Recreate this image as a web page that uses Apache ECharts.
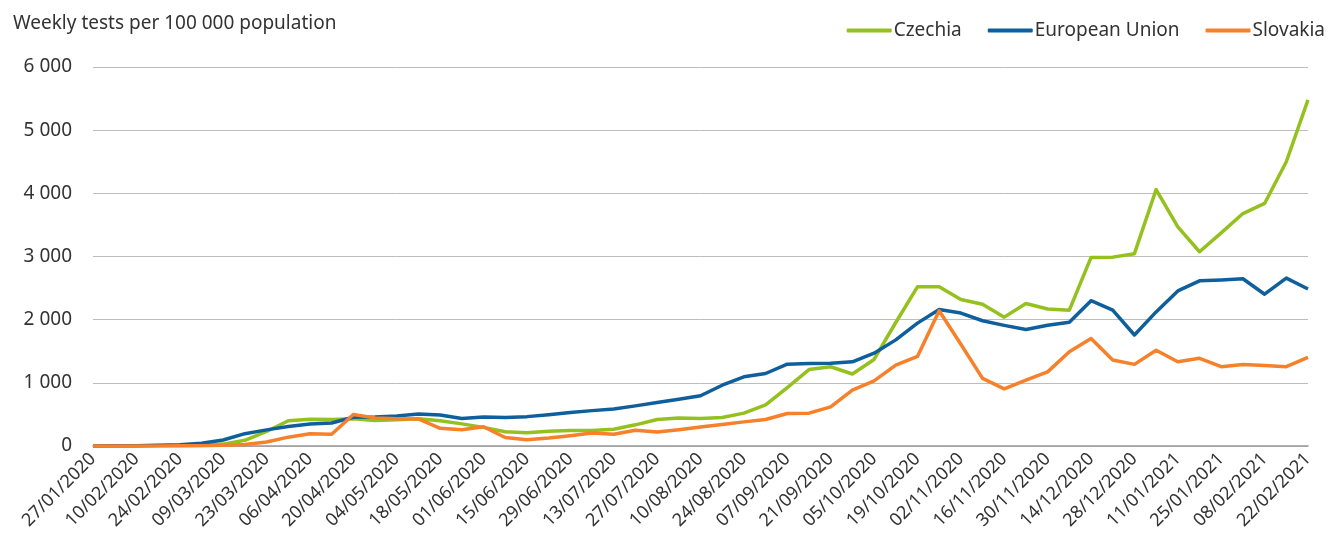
<!DOCTYPE html>
<html>
<head>
<meta charset="utf-8">
<script src="https://cdn.jsdelivr.net/npm/echarts@6/dist/echarts.min.js"></script>
<style>
  html, body { margin: 0; padding: 0; background: #fff; }
  #chart { width: 1330px; height: 550px; }
</style>
</head>
<body>
<div id="chart"></div>
<script>
  // weekly dates (Monday of each week)
  const weeks = [
    '27/01/2020', '03/02/2020', '10/02/2020', '17/02/2020', '24/02/2020', '02/03/2020',
    '09/03/2020', '16/03/2020', '23/03/2020', '30/03/2020', '06/04/2020', '13/04/2020',
    '20/04/2020', '27/04/2020', '04/05/2020', '11/05/2020', '18/05/2020', '25/05/2020',
    '01/06/2020', '08/06/2020', '15/06/2020', '22/06/2020', '29/06/2020', '06/07/2020',
    '13/07/2020', '20/07/2020', '27/07/2020', '03/08/2020', '10/08/2020', '17/08/2020',
    '24/08/2020', '31/08/2020', '07/09/2020', '14/09/2020', '21/09/2020', '28/09/2020',
    '05/10/2020', '12/10/2020', '19/10/2020', '26/10/2020', '02/11/2020', '09/11/2020',
    '16/11/2020', '23/11/2020', '30/11/2020', '07/12/2020', '14/12/2020', '21/12/2020',
    '28/12/2020', '04/01/2021', '11/01/2021', '18/01/2021', '25/01/2021', '01/02/2021',
    '08/02/2021', '15/02/2021', '22/02/2021'
  ];

  const czechia = [
    0, 0, 0, 2, 5, 12, 30, 90, 230, 400, 425, 420, 430, 405, 415, 430, 400, 350, 295, 225,
    210, 235, 245, 245, 265, 335, 420, 445, 435, 450, 520, 650, 925, 1210, 1255, 1140, 1370,
    1955, 2520, 2520, 2320, 2245, 2040, 2255, 2170, 2150, 2985, 2990, 3045, 4060, 3470, 3075,
    3375, 3680, 3840, 4500, 5480
  ];

  const eu = [
    0, 2, 4, 10, 20, 45, 95, 195, 255, 310, 350, 365, 455, 460, 475, 505, 490, 435, 460, 450,
    465, 495, 530, 560, 585, 635, 690, 740, 795, 962, 1095, 1148, 1295, 1305, 1310, 1332, 1470,
    1680, 1945, 2162, 2105, 1983, 1910, 1843, 1912, 1958, 2300, 2152, 1757, 2123, 2455, 2615,
    2628, 2648, 2403, 2658, 2485
  ];

  const slovakia = [
    0, 0, 0, 0, 2, 5, 10, 25, 63, 140, 195, 185, 500, 445, 430, 428, 280, 258, 305, 135,
    100, 127, 163, 206, 185, 248, 222, 258, 300, 340, 382, 420, 515, 520, 620, 885, 1030,
    1280, 1418, 2140, 1610, 1071, 905, 1042, 1173, 1492, 1700, 1361, 1292, 1515, 1334, 1388,
    1255, 1290, 1275, 1255, 1402
  ];

  const seriesNames = ['Czechia', 'European Union', 'Slovakia'];
  const colors = ['#95C11F', '#0F5F9C', '#F7802A'];

  const fontFamily = '"Noto Sans", "Open Sans", sans-serif';
  const fmt = v => String(v).replace(/\B(?=(\d{3})+(?!\d))/g, ' ');

  const chart = echarts.init(document.getElementById('chart'));

  const lineSeries = (name, data, color) => ({
    name: name,
    type: 'line',
    data: data,
    symbol: 'none',
    smooth: false,
    color: color,
    lineStyle: { width: 3.5, color: color, join: 'round' },
    emphasis: { disabled: true }
  });

  chart.setOption({
    animation: false,
    textStyle: { fontFamily: fontFamily },
    title: {
      text: 'Weekly tests per 100 000 population',
      left: 8,
      top: 9,
      textStyle: { fontSize: 19, fontWeight: 'normal', color: '#333', fontFamily: fontFamily }
    },
    legend: {
      data: seriesNames,
      right: 0,
      top: 16,
      icon: 'roundRect',
      itemWidth: 45,
      itemHeight: 4,
      itemGap: 26,
      textStyle: { fontSize: 19, color: '#333', padding: [0, 0, 0, -3], fontFamily: fontFamily }
    },
    grid: {
      left: 93,
      right: 22,
      top: 67,
      bottom: 104,
      containLabel: false,
      outerBoundsMode: 'none'
    },
    xAxis: {
      type: 'category',
      data: weeks,
      boundaryGap: false,
      axisLine: { show: true, lineStyle: { color: '#999', width: 1.5 } },
      axisTick: { show: false },
      axisLabel: {
        interval: 1,
        rotate: 45,
        fontSize: 18,
        color: '#333',
        margin: 10,
        fontFamily: fontFamily
      }
    },
    yAxis: {
      type: 'value',
      min: 0,
      max: 6000,
      interval: 1000,
      axisLine: { show: false },
      axisTick: { show: false },
      splitLine: { lineStyle: { color: '#bdbdbd', width: 1 } },
      axisLabel: {
        formatter: fmt,
        fontSize: 19,
        color: '#333',
        margin: 21,
        fontFamily: fontFamily
      }
    },
    series: [
      lineSeries(seriesNames[0], czechia, colors[0]),
      lineSeries(seriesNames[1], eu, colors[1]),
      lineSeries(seriesNames[2], slovakia, colors[2])
    ]
  });
</script>
</body>
</html>
